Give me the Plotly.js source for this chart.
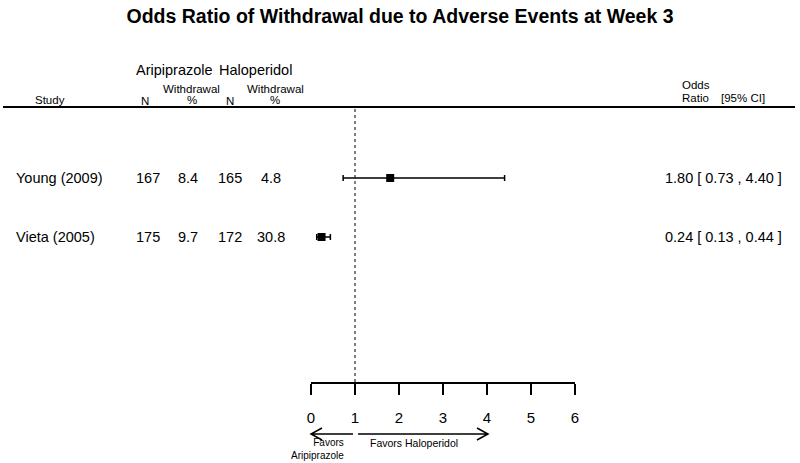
<!DOCTYPE html>
<html>
<head>
<meta charset="utf-8">
<script src="https://cdn.plot.ly/plotly-3.0.1.min.js"></script>
<style>
  html, body { margin: 0; padding: 0; background: #fff; }
  #forest { width: 800px; height: 463px; }
</style>
</head>
<body>
<div id="forest"></div>
<script>
// study data
const studies = ["Young (2009)", "Vieta (2005)"];
const ariN = [167, 175];
const ariPct = [8.4, 9.7];
const halN = [165, 172];
const halPct = [4.8, 30.8];
const oddsRatio = [1.80, 0.24];
const ciLow = [0.73, 0.13];
const ciHigh = [4.40, 0.44];
const rows = [1, 2];
const xTicks = [0, 1, 2, 3, 4, 5, 6];

// plot box in pixels
const W = 800, H = 463;
const L = 311, R = 575, T = 107, B = 382;

// pixel -> paper helpers for the table text
function px(x) { return (x - L) / (R - L); }
function py(y) { return (B - y) / (B - T); }

const FONT = "Liberation Sans, Arial, sans-serif";

function txt(x, y, text, size, anchor, yref) {
  return {
    xref: "paper", yref: yref || "paper",
    x: x, y: y, text: text, showarrow: false,
    xanchor: anchor || "center", yanchor: "middle",
    align: anchor === "right" ? "right" : (anchor === "left" ? "left" : "center"),
    font: { family: FONT, size: size, color: "black" }
  };
}

const annotations = [
  txt(px(134), py(70), "Aripiprazole", 14.5, "left"),
  txt(px(217), py(70), "Haloperidol", 14.5, "left"),
  txt(px(50), py(100), "Study", 11.5),
  txt(px(145), py(101), "N", 11.5),
  txt(px(191), py(89), "Withdrawal", 11.5),
  txt(px(192), py(100), "%", 11.5),
  txt(px(230), py(101), "N", 11.5),
  txt(px(275), py(89), "Withdrawal", 11.5),
  txt(px(275), py(100), "%", 11.5),
  txt(px(680), py(85), "Odds", 11.5, "left"),
  txt(px(680), py(98), "Ratio", 11.5, "left"),
  txt(px(719), py(98), "[95% CI]", 11.5, "left"),
  txt(px(346), py(449), "Favors<br>Aripiprazole", 10, "right"),
  txt(px(368), py(443), "Favors Haloperidol", 10.5, "left")
];

studies.forEach((s, i) => {
  const y = rows[i];
  annotations.push(txt(px(14), y, s, 14.5, "left", "y"));
  annotations.push(txt(px(148), y, String(ariN[i]), 14.5, "center", "y"));
  annotations.push(txt(px(188), y, ariPct[i].toFixed(1), 14.5, "center", "y"));
  annotations.push(txt(px(230), y, String(halN[i]), 14.5, "center", "y"));
  annotations.push(txt(px(271), y, halPct[i].toFixed(1), 14.5, "center", "y"));
  annotations.push(txt(px(784), y,
    oddsRatio[i].toFixed(2) + " [ " + ciLow[i].toFixed(2) + " , " + ciHigh[i].toFixed(2) + " ]",
    14.5, "right", "y"));
});

// y range so that row 1 sits at 178px and row 2 at 237px
const rowGap = 237 - 178;
const yTop = 1 - (178 - T) / rowGap;
const yBot = 2 + (B - 237) / rowGap;

const trace = {
  x: oddsRatio,
  y: rows,
  type: "scatter",
  mode: "markers",
  marker: { symbol: "square", size: 8, color: "black" },
  error_x: {
    type: "data",
    symmetric: false,
    array: oddsRatio.map((v, i) => ciHigh[i] - v),
    arrayminus: oddsRatio.map((v, i) => v - ciLow[i]),
    color: "black",
    thickness: 1.5,
    width: 3
  },
  hoverinfo: "skip",
  showlegend: false
};

const arrowPath =
  "M " + px(353) + "," + py(434) + " L " + px(311) + "," + py(434) +
  " M " + px(322) + "," + py(428) + " L " + px(311) + "," + py(434) + " L " + px(322) + "," + py(440);
const arrowPath2 =
  "M " + px(358) + "," + py(434) + " L " + px(488) + "," + py(434) +
  " M " + px(477) + "," + py(428) + " L " + px(488) + "," + py(434) + " L " + px(477) + "," + py(440);

const layout = {
  width: W, height: H,
  margin: { l: L, r: W - R, t: T, b: H - B, pad: 0 },
  paper_bgcolor: "white",
  plot_bgcolor: "white",
  title: {
    text: "<b>Odds Ratio of Withdrawal due to Adverse Events at Week 3</b>",
    x: 0.5, xref: "container", y: 1 - 16 / H, yref: "container",
    xanchor: "center", yanchor: "middle",
    font: { family: FONT, size: 19.5, color: "black" }
  },
  xaxis: {
    range: [0, 6],
    tickvals: xTicks,
    showgrid: false, zeroline: false,
    showline: true, linecolor: "black", linewidth: 2,
    ticks: "outside", ticklen: 11, tickwidth: 2, tickcolor: "black",
    ticklabelstandoff: 10,
    tickfont: { family: FONT, size: 15, color: "black" },
    fixedrange: true
  },
  yaxis: {
    range: [yBot, yTop],
    visible: false,
    showgrid: false, zeroline: false,
    fixedrange: true
  },
  shapes: [
    { type: "line", xref: "paper", yref: "paper", x0: px(3), x1: px(795), y0: 1, y1: 1,
      line: { color: "black", width: 2 } },
    { type: "line", xref: "x", yref: "paper", x0: 1, x1: 1, y0: 0, y1: 1,
      line: { color: "black", width: 1, dash: "dot" } },
    { type: "path", xref: "paper", yref: "paper", path: arrowPath,
      line: { color: "black", width: 1.5 } },
    { type: "path", xref: "paper", yref: "paper", path: arrowPath2,
      line: { color: "black", width: 1.5 } }
  ],
  annotations: annotations
};

Plotly.newPlot("forest", [trace], layout, { staticPlot: true, displayModeBar: false });
</script>
</body>
</html>
